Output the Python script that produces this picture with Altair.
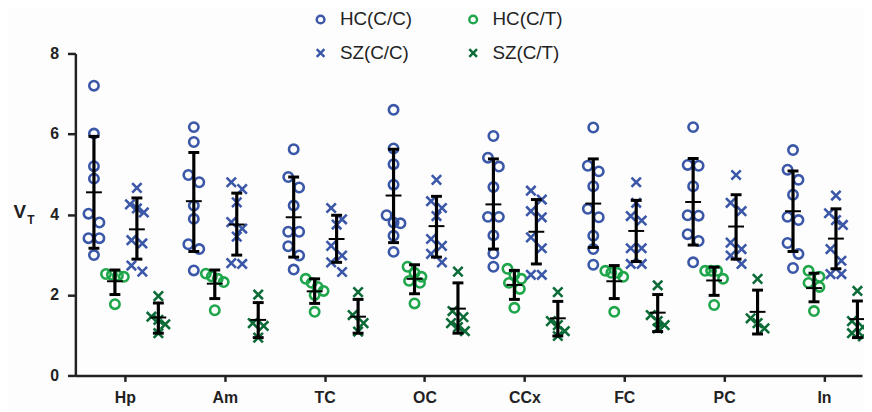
import altair as alt
import pandas as pd

categories = ["Hp", "Am", "TC", "OC", "CCx", "FC", "PC", "In"]
groups = ["HC(C/C)", "HC(C/T)", "SZ(C/C)", "SZ(C/T)"]
group_offsets = [-0.31, -0.10, 0.12, 0.335]
colors = ["#3b57a7", "#1fa64b", "#3b57a7", "#0c6b37"]

# individual values per category, per group
hc_cc = [
    [7.2, 6.01, 5.2, 4.89, 4.02, 3.8, 3.41, 3.41, 2.99],
    [6.17, 5.8, 4.98, 4.8, 4.22, 3.89, 3.26, 3.14, 2.61],
    [5.62, 4.93, 4.67, 4.22, 3.57, 3.57, 3.21, 2.98, 2.63],
    [6.6, 5.64, 5.25, 4.74, 3.98, 3.8, 3.78, 3.47, 3.07],
    [5.95, 5.41, 5.19, 4.68, 3.94, 3.94, 3.48, 3.03, 2.7],
    [6.16, 5.21, 5.07, 4.7, 4.14, 3.93, 3.47, 3.14, 2.75],
    [6.17, 5.23, 5.21, 4.7, 3.98, 3.97, 3.51, 3.34, 2.81],
    [5.6, 5.11, 4.86, 4.49, 3.94, 3.86, 3.29, 3.02, 2.67],
]
hc_ct = [
    [2.52, 2.5, 2.48, 2.45, 1.77],
    [2.53, 2.46, 2.4, 2.32, 1.62],
    [2.4, 2.3, 2.2, 2.1, 2.0, 1.58],
    [2.7, 2.55, 2.45, 2.35, 2.3, 1.79],
    [2.65, 2.5, 2.4, 2.3, 2.15, 1.68],
    [2.6, 2.55, 2.55, 2.45, 1.58],
    [2.6, 2.6, 2.6, 2.4, 1.75],
    [2.6, 2.45, 2.3, 2.2, 1.6],
]
sz_cc = [
    [4.66, 4.25, 4.15, 4.05, 3.36, 3.28, 2.73, 2.58],
    [4.8, 4.63, 4.3, 3.81, 3.65, 3.45, 2.79, 2.77],
    [4.16, 3.88, 3.75, 3.22, 2.98, 2.81, 2.57],
    [4.86, 4.33, 4.16, 3.96, 3.39, 3.22, 3.02, 2.81],
    [4.59, 4.37, 4.08, 3.93, 3.43, 3.16, 2.5, 2.5],
    [4.8, 4.29, 3.96, 3.85, 3.16, 3.16, 2.77, 2.77],
    [4.98, 4.29, 4.08, 3.3, 3.14, 2.98, 2.77],
    [4.47, 4.03, 3.86, 3.74, 3.14, 2.85, 2.52, 2.52],
]
sz_ct = [
    [1.97, 1.46, 1.38, 1.27, 1.05],
    [2.01, 1.3, 1.23, 0.94],
    [2.07, 1.5, 1.3, 1.09],
    [2.58, 1.6, 1.45, 1.3, 1.2, 1.1],
    [2.07, 1.35, 1.25, 1.1, 0.98],
    [2.24, 1.5, 1.35, 1.25, 1.17],
    [2.4, 1.42, 1.3, 1.17],
    [2.1, 1.35, 1.2, 1.05, 0.97],
]
# mean, lower and upper error bar ends (mean ± SD) per category
hc_cc_mean = [4.55, 4.33, 3.93, 4.47, 4.25, 4.27, 4.31, 4.08]
hc_cc_lo = [3.16, 3.08, 2.94, 3.30, 3.14, 3.18, 3.24, 3.08]
hc_cc_hi = [5.94, 5.54, 4.93, 5.62, 5.38, 5.38, 5.39, 5.08]
hc_ct_mean = [2.34, 2.28, 2.09, 2.40, 2.25, 2.34, 2.36, 2.17]
hc_ct_lo = [2.01, 1.91, 1.79, 2.03, 1.89, 1.91, 1.99, 1.83]
hc_ct_hi = [2.62, 2.62, 2.40, 2.75, 2.61, 2.73, 2.69, 2.54]
sz_cc_mean = [3.63, 3.75, 3.39, 3.71, 3.57, 3.59, 3.70, 3.40]
sz_cc_lo = [2.89, 2.99, 2.81, 2.94, 2.77, 2.83, 2.89, 2.65]
sz_cc_hi = [4.41, 4.53, 3.98, 4.45, 4.37, 4.35, 4.49, 4.14]
sz_ct_mean = [1.44, 1.38, 1.46, 1.66, 1.42, 1.56, 1.58, 1.40]
sz_ct_lo = [1.05, 0.94, 1.05, 1.05, 0.98, 1.09, 1.03, 0.94]
sz_ct_hi = [1.80, 1.81, 1.89, 2.30, 1.84, 2.01, 2.12, 1.85]

values = [hc_cc, hc_ct, sz_cc, sz_ct]
means = [hc_cc_mean, hc_ct_mean, sz_cc_mean, sz_ct_mean]
los = [hc_cc_lo, hc_ct_lo, sz_cc_lo, sz_ct_lo]
his = [hc_cc_hi, hc_ct_hi, sz_cc_hi, sz_ct_hi]

PX_X = 100.8   # pixels per category step
ROW_T = 0.3    # values closer than this share a horizontal row


def spread(vals):
    """Scatter-dot layout: nearby values are placed side by side, centred."""
    order = sorted(range(len(vals)), key=lambda i: -vals[i])
    rows = []
    for i in order:
        if rows and vals[rows[-1][0]] - vals[i] < ROW_T:
            rows[-1].append(i)
        else:
            rows.append([i])
    out = [0.0] * len(vals)
    for row in rows:
        n = len(row)
        step = 11.0 if n == 2 else (7.0 if n == 3 else 6.0)
        for k, i in enumerate(row):
            out[i] = (k - (n - 1) / 2) * step / PX_X
    return out


pts = []
bars = []
for gi, g in enumerate(groups):
    for ci, c in enumerate(categories):
        base = ci + group_offsets[gi]
        vals = values[gi][ci]
        for v, dx in zip(vals, spread(vals)):
            pts.append({"group": g, "cat": c, "x": base + dx, "y": v})
        bars.append({"group": g, "cat": c, "x": base, "x2": base,
                     "mean": means[gi][ci], "lo": los[gi][ci], "hi": his[gi][ci]})

pts_df = pd.DataFrame(pts)
bars_df = pd.DataFrame(bars)

FONT = "Liberation Sans"
XPATH = "M-1,-1L1,1M1,-1L-1,1"

xscale = alt.Scale(domain=[-0.496, 7.381], nice=False, zero=False)
yscale = alt.Scale(domain=[0, 8], nice=False)

label_expr = "[" + ",".join("'" + c + "'" for c in categories) + "][datum.value]"

xaxis = alt.Axis(values=list(range(len(categories))), labelExpr=label_expr, title=None,
                 grid=False, domainColor="#222", domainWidth=2.5, tickColor="#222",
                 tickWidth=2.5, tickSize=6, labelFont=FONT, labelFontSize=16,
                 labelFontWeight="bold", labelColor="#222", labelPadding=8)
yaxis = alt.Axis(values=[0, 2, 4, 6, 8], title=None, grid=False, domainColor="#222",
                 domainWidth=2.5, tickColor="#222", tickWidth=2.5, tickSize=8,
                 labelFont=FONT, labelFontSize=16, labelFontWeight="bold",
                 labelColor="#222", labelPadding=9)

legend = alt.Legend(title=None, orient="none", legendX=238, legendY=-44, columns=2,
                    direction="horizontal",
                    columnPadding=52, rowPadding=14, labelFont=FONT, labelFontSize=19,
                    labelColor="#222", symbolSize=60, symbolStrokeWidth=2.5,
                    labelOffset=10, padding=0)

points = alt.Chart(pts_df).mark_point(filled=False, strokeWidth=2.6, size=90, opacity=1).encode(
    x=alt.X("x:Q", scale=xscale, axis=xaxis),
    y=alt.Y("y:Q", scale=yscale, axis=yaxis),
    color=alt.Color("group:N", scale=alt.Scale(domain=groups, range=colors), legend=legend),
    shape=alt.Shape("group:N", scale=alt.Scale(domain=groups,
                                               range=["circle", "circle", XPATH, XPATH]),
                    legend=legend),
)

vbar = alt.Chart(bars_df).mark_rule(color="black", strokeWidth=3.2).encode(
    x="x:Q", y="lo:Q", y2="hi:Q")
cap_lo = alt.Chart(bars_df).mark_rule(color="black", strokeWidth=3, xOffset=-5.5,
                                      x2Offset=5.5).encode(x="x:Q", x2="x2:Q", y="lo:Q")
cap_hi = alt.Chart(bars_df).mark_rule(color="black", strokeWidth=3, xOffset=-5.5,
                                      x2Offset=5.5).encode(x="x:Q", x2="x2:Q", y="hi:Q")
mean_line = alt.Chart(bars_df).mark_rule(color="black", strokeWidth=2, xOffset=-8,
                                         x2Offset=8).encode(x="x:Q", x2="x2:Q", y="mean:Q")

title_df = pd.DataFrame({"t": ["V", "T"]})
title_v = alt.Chart(title_df.iloc[[0]]).mark_text(font=FONT, fontSize=19, fontWeight="bold",
                                                  color="#222").encode(
    text="t:N", x=alt.value(-56), y=alt.value(160))
title_t = alt.Chart(title_df.iloc[[1]]).mark_text(font=FONT, fontSize=12, fontWeight="bold",
                                                  color="#222").encode(
    text="t:N", x=alt.value(-45), y=alt.value(168))

chart = alt.layer(points, vbar, cap_lo, cap_hi, mean_line, title_v, title_t).properties(
    width=794, height=325,
    padding={"left": 68, "top": 44, "right": 2, "bottom": 34},
    autosize=alt.AutoSizeParams(type="none"),
    background="#fdfdfe",
).configure_view(stroke=None)

chart.save("out.html", embed_options={"renderer": "svg", "actions": False})
